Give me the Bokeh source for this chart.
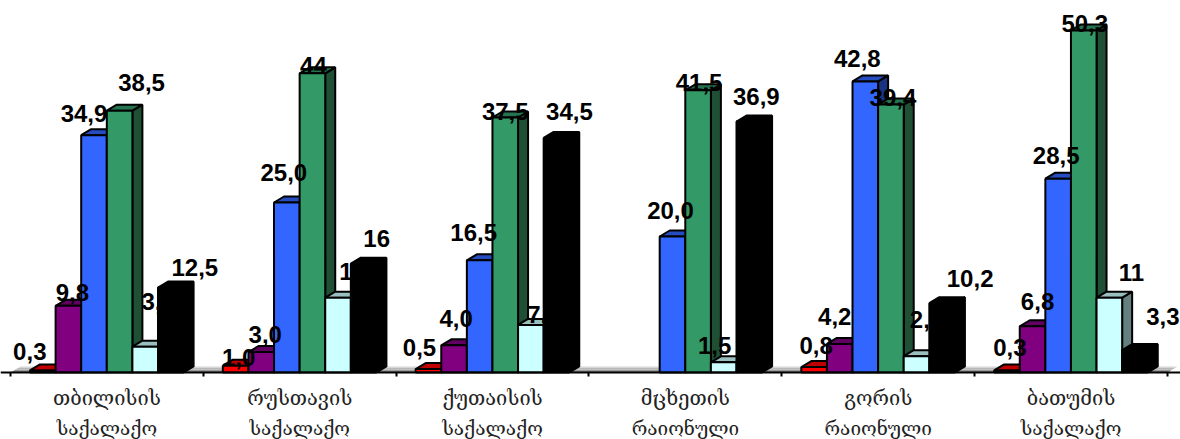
from bokeh.plotting import figure
from bokeh.models import ColumnDataSource, LinearAxis, FixedTicker, Range1d
from bokeh.core.properties import value
from bokeh.embed import file_html
from bokeh.resources import INLINE

cat_line1 = ["თბილისის", "რუსთავის", "ქუთაისის", "მცხეთის", "გორის", "ბათუმის"]
cat_line2 = ["საქალაქო", "საქალაქო", "საქალაქო", "რაიონული", "რაიონული", "საქალაქო"]

red = [0.3, 1.0, 0.5, None, 0.8, 0.3]
purple = [9.8, 3.0, 4.0, None, 4.2, 6.8]
blue = [34.9, 25.0, 16.5, 20.0, 42.8, 28.5]
green = [38.5, 44.0, 37.5, 41.5, 39.4, 50.3]
cyan = [3.8, 11.0, 7.0, 1.5, 2.4, 11.0]
black = [12.5, 16.0, 34.5, 36.9, 10.2, 3.3]

red_labels = ["0,3", "1,0", "0,5", "", "0,8", "0,3"]
purple_labels = ["9,8", "3,0", "4,0", "", "4,2", "6,8"]
blue_labels = ["34,9", "25,0", "16,5", "20,0", "42,8", "28,5"]
green_labels = ["38,5", "44", "37,5", "41,5", "39,4", "50,3"]
cyan_labels = ["3,8", "11", "7,0", "1,5", "2,4", "11"]
black_labels = ["12,5", "16", "34,5", "36,9", "10,2", "3,3"]

# label placement relative to the top of each bar, in pixels
off_x = [[-13, 3, -9, 0, 2, 3], [4, 4, 2, 0, -5, 5], [-10, -3, -6, -2, -8, -2],
         [22, 1, 0, 1, 2, 1], [13, 14, 13, -9, 10, 22], [24, 13, 13, 7, 28, 28]]
off_y = [[-19, -8, -22, 0, -22, -23], [-13, -18, -27, 0, -27, -25], [-22, -30, -28, -26, -23, -23],
         [-28, -8, -6, -8, -7, -7], [-45, -26, -10, -17, -37, -25], [-20, -25, -26, -25, -25, -34]]

W, H = 1180, 439
GROUP_PX = 192.83
ORIGIN_PX = 10
BASE_PX = 372
UNIT_PX = 6.8
BAR = 25.6 / GROUP_PX
INSET = 19.5 / GROUP_PX
DEPTH_X = 10 / GROUP_PX
DEPTH_Y = 6 / UNIT_PX

series = [
    (red, red_labels, "#ff0000", "#c00000", "#800000"),
    (purple, purple_labels, "#800080", "#600060", "#400040"),
    (blue, blue_labels, "#3366ff", "#264dbf", "#1a3380"),
    (green, green_labels, "#339966", "#267350", "#1f5035"),
    (cyan, cyan_labels, "#ccffff", "#99bfbf", "#668080"),
    (black, black_labels, "#000000", "#000000", "#000000"),
]

p = figure(width=W, height=H, output_backend="svg", toolbar_location=None,
           x_range=Range1d(-ORIGIN_PX / GROUP_PX, (W - ORIGIN_PX) / GROUP_PX),
           y_range=Range1d(-(H - BASE_PX) / UNIT_PX, BASE_PX / UNIT_PX),
           min_border=0, x_axis_location=None, y_axis_location=None,
           outline_line_color=None, background_fill_color="white")
p.grid.visible = False

# floor of the 3D box, shaded from dark at the front to light at the back
floor_shades = ["#808080", "#9a9a9a", "#b8b8b8", "#d6d6d6"]
n = len(floor_shades)
for k, shade in enumerate(floor_shades):
    f0, f1 = k / n, (k + 1) / n
    p.patch([f0 * DEPTH_X, 6 + f0 * DEPTH_X, 6 + f1 * DEPTH_X, f1 * DEPTH_X],
            [f0 * DEPTH_Y, f0 * DEPTH_Y, f1 * DEPTH_Y, f1 * DEPTH_Y],
            fill_color=shade, line_color=None)


def draw_bars(idx):
    vals, _, front, top, side = series[idx]
    rows = [(g, v) for g, v in enumerate(vals) if v is not None]
    l = [g + INSET + idx * BAR for g, _ in rows]
    r = [a + BAR for a in l]
    t = [v for _, v in rows]
    p.patches([[b, b + DEPTH_X, b + DEPTH_X, b] for b in r],
              [[0, DEPTH_Y, v + DEPTH_Y, v] for v in t],
              fill_color=side, line_color="black", line_width=2)
    p.patches([[a, a + DEPTH_X, b + DEPTH_X, b] for a, b in zip(l, r)],
              [[v, v + DEPTH_Y, v + DEPTH_Y, v] for v in t],
              fill_color=top, line_color="black", line_width=2)
    p.quad(left=l, right=r, bottom=[0] * len(t), top=t,
           fill_color=front, line_color="black", line_width=2)


def draw_labels(idx):
    vals, labels, *_ = series[idx]
    rows = [g for g, v in enumerate(vals) if v is not None]
    src = ColumnDataSource(dict(
        x=[g + INSET + (idx + 0.5) * BAR for g in rows],
        y=[vals[g] for g in rows],
        t=[labels[g] for g in rows],
        ox=[off_x[idx][g] for g in rows],
        oy=[off_y[idx][g] for g in rows],
    ))
    p.text("x", "y", text="t", source=src, x_offset="ox", y_offset="oy",
           text_font=value("Liberation Sans"), text_font_style="bold",
           text_font_size="24px", text_color="black",
           text_align="center", text_baseline="middle")


for i in range(5):
    draw_bars(i)
for i in range(5):
    draw_labels(i)
draw_bars(5)
draw_labels(5)

# axis line and ticks
tick_axis = LinearAxis(fixed_location=0, ticker=FixedTicker(ticks=list(range(7))))
tick_axis.major_label_text_font_size = "0px"
tick_axis.major_label_text_color = None
tick_axis.minor_tick_line_color = None
tick_axis.major_tick_in = 0
tick_axis.major_tick_out = 4
tick_axis.major_tick_line_width = 2
tick_axis.axis_line_width = 2
tick_axis.axis_line_color = "black"
p.add_layout(tick_axis, "below")

# two-line category labels
centres = [g + 0.5 for g in range(6)]
for lines, standoff, size in ((cat_line1, 13, "20px"), (cat_line2, 44, "19px")):
    ax = LinearAxis(fixed_location=0, ticker=FixedTicker(ticks=centres),
                    major_label_overrides={c: t for c, t in zip(centres, lines)})
    ax.axis_line_color = None
    ax.major_tick_line_color = None
    ax.minor_tick_line_color = None
    ax.major_tick_in = 0
    ax.major_tick_out = 0
    ax.major_label_standoff = standoff
    ax.major_label_text_font = "DejaVu Serif"
    ax.major_label_text_font_size = size
    ax.major_label_text_color = "#222222"
    p.add_layout(ax, "below")

open("out.html", "w").write(file_html(p, INLINE))
